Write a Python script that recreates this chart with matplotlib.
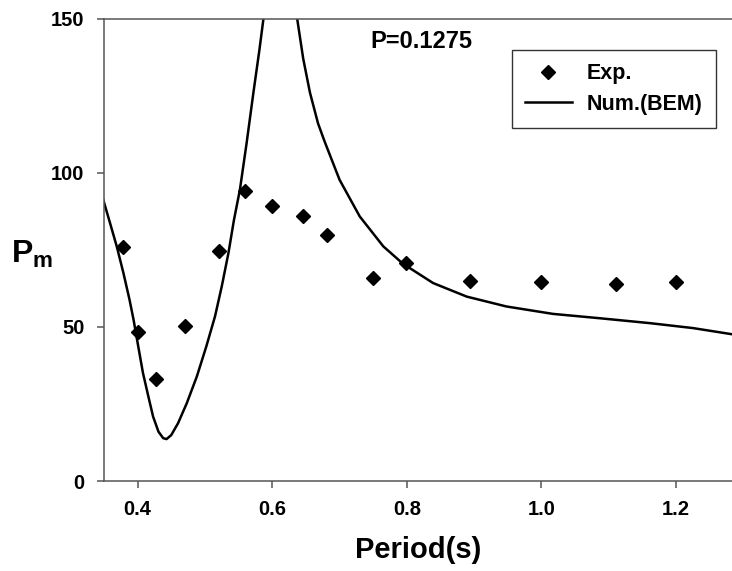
import matplotlib
matplotlib.use("Agg")
import matplotlib.pyplot as plt

plt.rcParams['font.family'] = ['Liberation Sans', 'DejaVu Sans']
plt.rcParams['font.weight'] = 'bold'
plt.rcParams['mathtext.fontset'] = 'custom'
plt.rcParams['mathtext.rm'] = 'Liberation Sans:bold'
plt.rcParams['mathtext.bf'] = 'Liberation Sans:bold'
plt.rcParams['mathtext.it'] = 'Liberation Sans:bold'

# Experimental points
exp_period = [0.379, 0.400, 0.428, 0.470, 0.521, 0.560, 0.599, 0.646, 0.681,
              0.749, 0.799, 0.894, 0.999, 1.110, 1.200]
exp_pm = [75.9, 48.3, 33.1, 50.4, 74.5, 93.9, 89.1, 85.8, 79.9,
          66.0, 70.7, 65.0, 64.5, 63.9, 64.4]

# Numerical (BEM) curve
bem_period = [0.349, 0.359, 0.369, 0.379, 0.388, 0.394, 0.401, 0.408, 0.416,
              0.423, 0.431, 0.438, 0.443, 0.450, 0.460, 0.473, 0.488, 0.502,
              0.515, 0.525, 0.535, 0.543, 0.552, 0.562, 0.572, 0.581, 0.587,
              0.595, 0.605, 0.612, 0.620, 0.628, 0.637, 0.646, 0.656, 0.668,
              0.678, 0.700, 0.730, 0.765, 0.794, 0.839, 0.889, 0.948, 1.017,
              1.086, 1.161, 1.225, 1.283]
bem_pm = [91.2, 83.7, 76.1, 67.4, 58.8, 52.3, 43.6, 35.0, 27.4,
          20.9, 16.0, 13.9, 13.6, 14.9, 18.7, 25.2, 33.9, 43.6,
          53.4, 63.1, 74.0, 84.5, 94.5, 109.7, 125.9, 139.9, 150.0,
          163.0, 180.0, 186.0, 178.0, 165.0, 150.0, 137.0, 126.0, 116.0,
          110.0, 97.7, 85.8, 76.1, 70.5, 64.2, 59.8, 56.6, 54.2,
          52.8, 51.2, 49.6, 47.6]

fig = plt.figure(figsize=(7.32, 5.71), dpi=100)
ax = fig.add_axes([0.142, 0.1576, 0.858, 0.81])

ax.plot(exp_period, exp_pm, linestyle='none', marker='D', markersize=6.8,
        color='black', label='Exp.', clip_on=False)
ax.plot(bem_period, bem_pm, color='black', linewidth=1.8, label='Num.(BEM)')

ax.set_xlim(0.35, 1.283)
ax.set_ylim(0, 150)
ax.set_xticks([0.4, 0.6, 0.8, 1.0, 1.2])
ax.set_xticklabels(['0.4', '0.6', '0.8', '1.0', '1.2'])
ax.set_yticks([0, 50, 100, 150])

for side in ['left', 'bottom', 'top']:
    ax.spines[side].set_color('#555555')
    ax.spines[side].set_linewidth(1.1)
ax.spines['right'].set_visible(False)
ax.tick_params(direction='out', length=5, width=1.1, color='#555555',
               labelsize=14.5, pad=9)

ax.set_xlabel('Period(s)', fontsize=21, fontweight='bold', labelpad=12)
fig.text(0.015, 0.555, r'$\mathrm{P_m}$', fontsize=23, ha='left', va='center')

fig.text(0.5055, 0.9265, 'P=0.1275', fontsize=17,
         fontweight='bold', ha='left', va='center')

leg = ax.legend(loc='upper right', bbox_to_anchor=(0.978, 0.912),
                bbox_transform=fig.transFigure, borderaxespad=0,
                fancybox=False, frameon=True, edgecolor='black',
                handlelength=2.2, borderpad=0.6, labelspacing=0.45,
                handletextpad=0.7, prop={'weight': 'bold', 'size': 15.5})
leg.get_frame().set_linewidth(1.0)

fig.savefig('out.png', dpi=100)
